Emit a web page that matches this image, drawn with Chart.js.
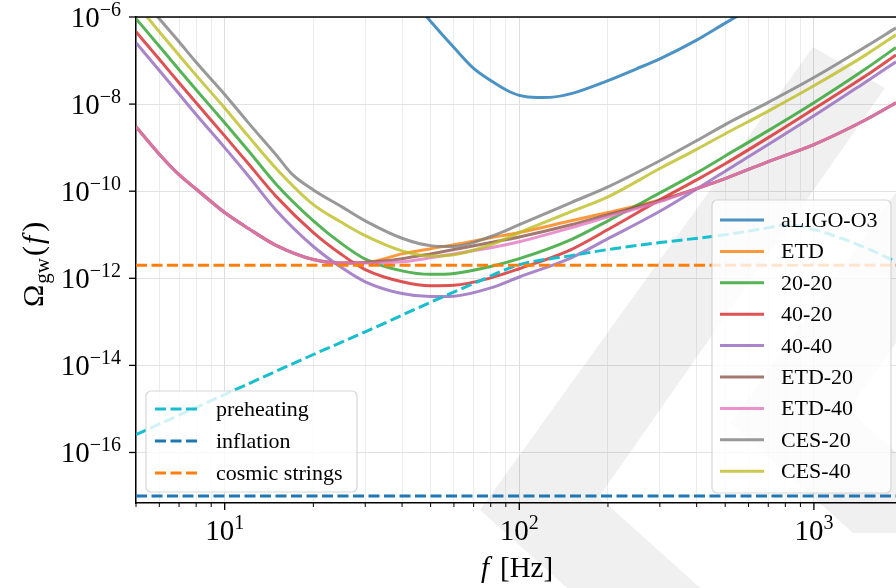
<!DOCTYPE html>
<html>
<head>
<meta charset="utf-8">
<script src="https://cdn.jsdelivr.net/npm/chart.js@4"></script>
<style>
html, body { margin: 0; padding: 0; background: #fff; }
#wrap { width: 896px; height: 588px; }
</style>
</head>
<body>
<div id="wrap"><canvas id="myChart"></canvas></div>
<script>
// frequency grid (Hz) shared by most detector curves
const freqs = [5, 6, 7, 8, 10, 12, 15, 20, 25, 30, 40, 50, 60, 80, 100, 150, 200, 300, 400, 500, 700, 1000, 1500, 1900]
// CES-20 has a visible knee near 17 Hz, so it gets one extra point
const freqsCES20 = [5, 6, 7, 8, 10, 12, 15, 17, 20, 25, 30, 40, 50, 60, 80, 100, 150, 200, 300, 400, 500, 700, 1000, 1500, 1900]

// log10 Omega_gw
const logETD   = [-8.52, -9.15, -9.62, -9.95, -10.49, -10.85, -11.25, -11.57, -11.65, -11.64, -11.44, -11.32, -11.23, -11.07, -10.95, -10.68, -10.49, -10.20, -9.94, -9.71, -9.32, -8.93, -8.36, -7.97]
const logETD20 = [-8.52, -9.15, -9.62, -9.95, -10.49, -10.85, -11.25, -11.57, -11.65, -11.64, -11.55, -11.44, -11.34, -11.18, -11.05, -10.77, -10.54, -10.22, -9.94, -9.71, -9.32, -8.93, -8.36, -7.97]
const logETD40 = [-8.52, -9.15, -9.62, -9.95, -10.49, -10.85, -11.25, -11.57, -11.65, -11.65, -11.62, -11.53, -11.44, -11.30, -11.16, -10.84, -10.59, -10.24, -9.94, -9.71, -9.32, -8.93, -8.36, -7.97]
const log2020  = [-6.04, -6.67, -7.21, -7.67, -8.43, -9.06, -9.85, -10.68, -11.21, -11.56, -11.83, -11.91, -11.89, -11.73, -11.55, -11.11, -10.68, -10.04, -9.58, -9.19, -8.61, -7.97, -7.19, -6.70]
const log4020  = [-6.34, -6.97, -7.51, -7.97, -8.73, -9.36, -10.13, -10.95, -11.46, -11.80, -12.08, -12.17, -12.16, -11.99, -11.78, -11.34, -10.88, -10.20, -9.74, -9.37, -8.77, -8.11, -7.35, -6.87]
const log4040  = [-6.59, -7.23, -7.77, -8.24, -9.00, -9.64, -10.45, -11.27, -11.76, -12.08, -12.35, -12.42, -12.41, -12.22, -11.97, -11.53, -11.09, -10.46, -9.95, -9.54, -8.93, -8.27, -7.49, -7.03]
const logCES40 = [-5.69, -6.34, -6.88, -7.34, -8.09, -8.73, -9.49, -10.31, -10.72, -11.02, -11.37, -11.49, -11.46, -11.23, -10.95, -10.47, -10.13, -9.48, -9.04, -8.68, -8.16, -7.58, -6.87, -6.41]
const logCES20 = [-5.40, -6.04, -6.57, -7.04, -7.78, -8.42, -9.18, -9.62, -9.97, -10.36, -10.68, -11.08, -11.25, -11.27, -11.04, -10.77, -10.26, -9.90, -9.30, -8.84, -8.47, -7.96, -7.39, -6.68, -6.25]

const aligoFreqs = [40, 45, 50, 55, 60, 70, 80, 90, 100, 115, 130, 150, 200, 250, 300, 400, 500, 600, 700]
const logALIGO   = [-5.34, -5.74, -6.10, -6.42, -6.70, -7.18, -7.46, -7.67, -7.80, -7.85, -7.84, -7.76, -7.46, -7.19, -6.96, -6.53, -6.14, -5.83, -5.56]

const preheatFreqs = [5, 10, 20, 30, 50, 70, 100, 150, 200, 300, 500, 700, 800, 1000, 1500, 1900]
const logPreheat   = [-15.59, -14.67, -13.75, -13.23, -12.55, -12.12, -11.69, -11.48, -11.34, -11.18, -11.00, -10.84, -10.77, -10.88, -11.30, -11.62]

const flatFreqs = [5, 1900]
const inflation = 1e-17
const cosmicStrings = 2e-12

const xTicks = [5, 6, 7, 8, 9, 10, 20, 30, 40, 50, 60, 70, 80, 90, 100, 200, 300, 400, 500, 600, 700, 800, 900, 1000]
const xLabelTicks = [1, 2, 3]
const yLabelTicks = [-16, -14, -12, -10, -8, -6]

const pts = (fs, ls) => fs.map((f, i) => ({x: f, y: Math.pow(10, ls[i])}))
const flat = v => flatFreqs.map(f => ({x: f, y: v}))

const FONT = '"Liberation Serif", "Times New Roman", serif'

function solid(label, color, data) {
    return {label, data, borderColor: color, backgroundColor: color, borderWidth: 3,
        pointRadius: 0, fill: false, cubicInterpolationMode: 'monotone', legendGroup: 'right'}
}
function dashed(label, color, data) {
    return {label, data, borderColor: color, backgroundColor: color, borderWidth: 3,
        borderDash: [11, 4.5], pointRadius: 0, fill: false, cubicInterpolationMode: 'monotone', legendGroup: 'left'}
}

const datasets = [
    solid('aLIGO-O3', 'rgba(31,119,180,0.8)', pts(aligoFreqs, logALIGO)),
    solid('ETD', 'rgba(255,127,14,0.8)', pts(freqs, logETD)),
    solid('20-20', 'rgba(44,160,44,0.8)', pts(freqs, log2020)),
    solid('40-20', 'rgba(214,39,40,0.8)', pts(freqs, log4020)),
    solid('40-40', 'rgba(148,103,189,0.8)', pts(freqs, log4040)),
    solid('ETD-20', 'rgba(140,86,75,0.8)', pts(freqs, logETD20)),
    solid('ETD-40', 'rgba(227,119,194,0.8)', pts(freqs, logETD40)),
    solid('CES-20', 'rgba(127,127,127,0.8)', pts(freqsCES20, logCES20)),
    solid('CES-40', 'rgba(188,189,34,0.8)', pts(freqs, logCES40)),
    dashed('preheating', '#17becf', pts(preheatFreqs, logPreheat)),
    dashed('inflation', '#1f77b4', flat(inflation)),
    dashed('cosmic strings', '#ff7f0e', flat(cosmicStrings)),
]
// draw in list order (last on top)
datasets.forEach((d, i) => { d.order = datasets.length - i })

// light grey logo in the background (two chevrons)
const watermark = {
    id: 'watermark',
    beforeDatasetsDraw(chart) {
        const ctx = chart.ctx
        const chevron = [[813, 47], [885, 88], [599, 497], [736, 620], [603, 620], [480, 510]]
        const shifts = [[0, 0], [250, -87]]
        ctx.save()
        ctx.fillStyle = 'rgba(0,0,0,0.058)'
        for (const [dx, dy] of shifts) {
            ctx.beginPath()
            chevron.forEach((p, i) => i ? ctx.lineTo(p[0] + dx, p[1] + dy) : ctx.moveTo(p[0] + dx, p[1] + dy))
            ctx.closePath()
            ctx.fill()
        }
        ctx.restore()
    }
}

function drawPow(ctx, exp, x, y, align) {
    ctx.font = '29px ' + FONT
    const wb = ctx.measureText('10').width
    ctx.font = '20px ' + FONT
    const e = String(exp).replace('-', '\u2212')
    const we = ctx.measureText(e).width
    let x0 = align === 'right' ? x - wb - we : x - (wb + we) / 2
    ctx.textAlign = 'left'
    ctx.textBaseline = 'alphabetic'
    ctx.font = '29px ' + FONT
    ctx.fillText('10', x0, y)
    ctx.font = '20px ' + FONT
    ctx.fillText(e, x0 + wb, y - 11)
}

function drawLegend(ctx, items, box, x0, y0, step) {
    ctx.save()
    ctx.beginPath()
    ctx.roundRect(box[0], box[1], box[2], box[3], 5)
    ctx.fillStyle = 'rgba(255,255,255,0.8)'
    ctx.fill()
    ctx.strokeStyle = 'rgba(204,204,204,0.8)'
    ctx.lineWidth = 1.2
    ctx.stroke()
    items.forEach((d, i) => {
        const y = y0 + i * step
        ctx.beginPath()
        ctx.setLineDash(d.borderDash || [])
        ctx.strokeStyle = d.borderColor
        ctx.lineWidth = 3
        ctx.moveTo(x0, y)
        ctx.lineTo(x0 + 44, y)
        ctx.stroke()
        ctx.setLineDash([])
        ctx.fillStyle = '#000'
        ctx.font = '22px ' + FONT
        ctx.textBaseline = 'alphabetic'
        ctx.fillText(d.label, x0 + 61, y + 7)
    })
    ctx.restore()
}

const decor = {
    id: 'decor',
    afterDatasetsDraw(chart) {
        const ctx = chart.ctx
        const a = chart.chartArea
        const xs = chart.scales.x, ys = chart.scales.y
        ctx.save()
        // top spine
        ctx.strokeStyle = '#000'
        ctx.lineWidth = 1.5
        ctx.beginPath()
        ctx.moveTo(a.left, a.top)
        ctx.lineTo(a.right, a.top)
        ctx.stroke()
        // x ticks
        xTicks.forEach(v => {
            const px = xs.getPixelForValue(v)
            const major = isPow10(v)
            ctx.lineWidth = major ? 1.3 : 1
            ctx.beginPath()
            ctx.moveTo(px, a.bottom)
            ctx.lineTo(px, a.bottom + (major ? 7 : 4))
            ctx.stroke()
        })
        // y ticks
        yLabelTicks.forEach(e => {
            const py = ys.getPixelForValue(Math.pow(10, e))
            ctx.lineWidth = 1.3
            ctx.beginPath()
            ctx.moveTo(a.left, py)
            ctx.lineTo(a.left - 7, py)
            ctx.stroke()
        })
        ctx.fillStyle = '#000'
        yLabelTicks.forEach(e => {
            const py = ys.getPixelForValue(Math.pow(10, e))
            drawPow(ctx, e, 121, py + 9.5, 'right')
        })
        xLabelTicks.forEach(e => {
            const px = xs.getPixelForValue(Math.pow(10, e))
            drawPow(ctx, e, px, 540, 'center')
        })
        // axis titles
        ctx.textAlign = 'left'
        ctx.textBaseline = 'alphabetic'
        ctx.font = 'italic 29px ' + FONT
        ctx.fillText('f', 481, 577)
        ctx.font = '29px ' + FONT
        ctx.fillText('[Hz]', 500, 577)

        ctx.save()
        ctx.translate(43, 307)
        ctx.rotate(-Math.PI / 2)
        ctx.font = '30px ' + FONT
        ctx.fillText('\u03A9', 0, 0)
        let w = ctx.measureText('\u03A9').width + 1
        ctx.font = '21px ' + FONT
        ctx.fillText('gw', w, 6)
        w += ctx.measureText('gw').width + 2
        ctx.font = '30px ' + FONT
        ctx.fillText('(', w, 0)
        w += ctx.measureText('(').width + 2
        ctx.font = 'italic 30px ' + FONT
        ctx.fillText('f', w, 0)
        w += ctx.measureText('f').width + 4
        ctx.font = '30px ' + FONT
        ctx.fillText(')', w, 0)
        ctx.restore()

        const ds = chart.data.datasets
        drawLegend(ctx, ds.filter(d => d.legendGroup === 'right'), [712, 200, 179, 293], 720, 220, 31.4)
        drawLegend(ctx, ds.filter(d => d.legendGroup === 'left'), [146, 391, 211, 101], 155, 409, 32)
        ctx.restore()
    }
}

function isPow10(v) {
    return Math.abs(Math.log10(v) - Math.round(Math.log10(v))) < 1e-9
}

const ctx = document.getElementById('myChart')
const chart = new Chart(ctx, {
    type: 'line',
    data: {datasets},
    options: {
        responsive: true,
        maintainAspectRatio: false,
        animation: false,
        layout: {padding: {top: 17, right: 0, left: 0, bottom: 0}},
        plugins: {legend: {display: false}, tooltip: {enabled: false}},
        scales: {
            x: {
                type: 'logarithmic', min: 5, max: 1900,
                afterBuildTicks: s => { s.ticks = xTicks.map(v => ({value: v})) },
                afterFit: s => { s.height = 85 },
                ticks: {display: false, autoSkip: false},
                grid: {drawTicks: false, lineWidth: 1, color: c => c.tick && isPow10(c.tick.value) ? '#dedede' : '#ececec'},
                border: {display: true, color: '#000', width: 1.5}
            },
            y: {
                type: 'logarithmic', min: Math.pow(10, -17.16), max: 1e-6,
                afterBuildTicks: s => { s.ticks = yLabelTicks.map(e => ({value: Math.pow(10, e)})) },
                afterFit: s => { s.width = 136 },
                ticks: {display: false, autoSkip: false},
                grid: {drawTicks: false, lineWidth: 1, color: '#e2e2e2'},
                border: {display: true, color: '#000', width: 1.5}
            }
        }
    },
    plugins: [watermark, decor]
})
</script>
</body>
</html>
